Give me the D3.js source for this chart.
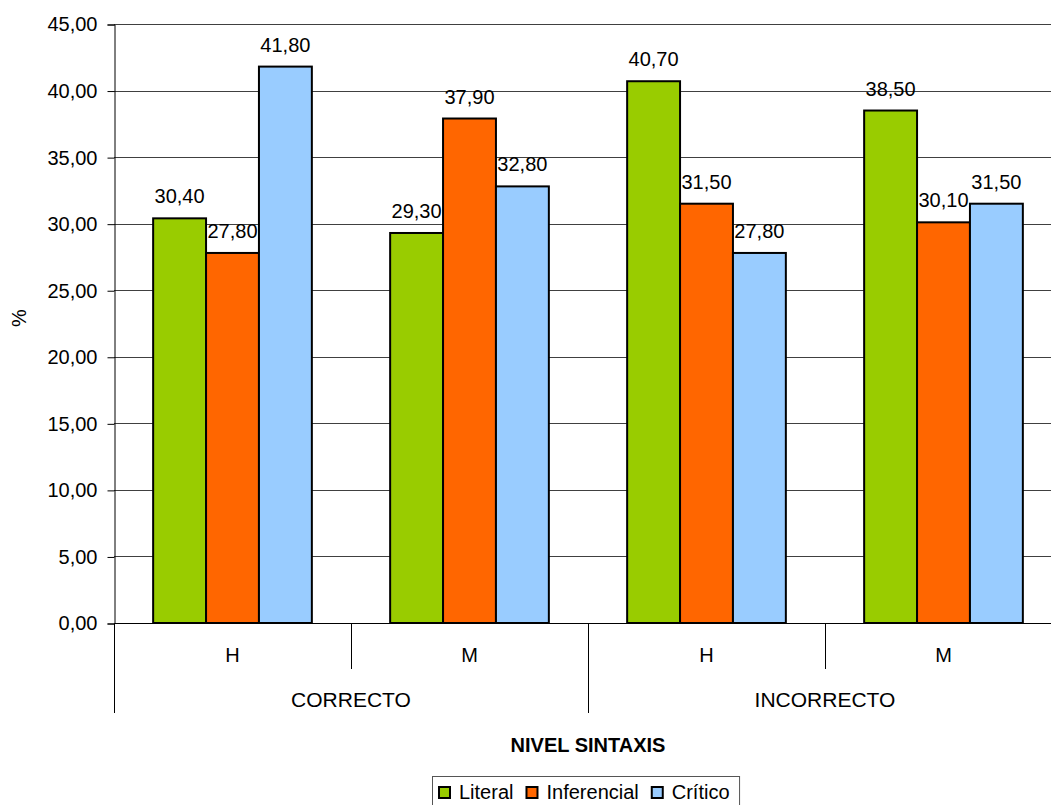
<!DOCTYPE html>
<html>
<head>
<meta charset="utf-8">
<script src="https://cdn.jsdelivr.net/npm/d3@7"></script>
<style>
html,body{margin:0;padding:0;background:#fff;overflow:hidden;}
svg{display:block;font-family:"Liberation Sans",Arial,sans-serif;}
</style>
</head>
<body>
<svg id="chart" width="1051" height="805"></svg>
<script>
const groups = ["CORRECTO", "INCORRECTO"];
const subCategories = ["H", "M", "H", "M"];
const subParent = [0, 0, 1, 1];
const seriesNames = ["Literal", "Inferencial", "Crítico"];
const literal = [30.4, 29.3, 40.7, 38.5];
const inferencial = [27.8, 37.9, 31.5, 30.1];
const critico = [41.8, 32.8, 27.8, 31.5];
const yTicks = [0, 5, 10, 15, 20, 25, 30, 35, 40, 45];
const colors = ["#99CC00", "#FF6600", "#99CCFF"];
const seriesValues = [literal, inferencial, critico];

const svg = d3.select("#chart");
const pLeft = 114, pRight = 1062, pTop = 24, pBottom = 623;

const x0 = d3.scaleBand().domain(d3.range(subCategories.length)).range([pLeft, pRight]).padding(0);
const x1 = d3.scaleBand().domain(seriesNames).range([0, x0.bandwidth()]).paddingInner(0).paddingOuter(0.74);
const y = d3.scaleLinear().domain([0, 45]).range([pBottom, pTop]);
const fmt = v => d3.format(".2f")(v).replace(".", ",");

// gridlines
svg.append("g").selectAll("line").data(yTicks.filter(d => d > 0)).join("line")
  .attr("x1", pLeft).attr("x2", pRight)
  .attr("y1", d => Math.round(y(d)) + 0.5).attr("y2", d => Math.round(y(d)) + 0.5)
  .attr("stroke", "#404040").attr("stroke-width", 1);

// y axis
const yAxis = d3.axisLeft(y).tickValues(yTicks).tickSize(7).tickPadding(10).tickFormat(fmt);
const gy = svg.append("g").attr("transform", `translate(${pLeft + 0.5},0.5)`).call(yAxis);
gy.select(".domain").attr("stroke", "#000");
gy.selectAll(".tick line").attr("stroke", "#000");
gy.selectAll(".tick text").attr("font-size", 20).attr("fill", "#000")
  .attr("font-family", "'Liberation Sans',Arial,sans-serif");

// bars
const data = [];
subCategories.forEach((c, i) => seriesNames.forEach((s, j) => data.push({i, s, j, v: seriesValues[j][i]})));
svg.append("g").selectAll("rect").data(data).join("rect")
  .attr("x", d => x0(d.i) + x1(d.s))
  .attr("y", d => y(d.v))
  .attr("width", x1.bandwidth())
  .attr("height", d => y(0) - y(d.v))
  .attr("fill", d => colors[d.j])
  .attr("stroke", "#000").attr("stroke-width", 2);

// value labels
svg.append("g").selectAll("text").data(data).join("text")
  .attr("x", d => x0(d.i) + x1(d.s) + x1.bandwidth() / 2)
  .attr("y", d => y(d.v) - 15)
  .attr("text-anchor", "middle").attr("font-size", 20).attr("fill", "#000")
  .text(d => fmt(d.v));

// x axis baseline
svg.append("line").attr("x1", pLeft).attr("x2", pRight)
  .attr("y1", pBottom + 0.5).attr("y2", pBottom + 0.5).attr("stroke", "#000");

// category separators
const sepX = d3.range(subCategories.length + 1).map(i => i < subCategories.length ? x0(i) : pRight);
svg.append("g").selectAll("line").data(sepX).join("line")
  .attr("x1", d => Math.round(d) + 0.5).attr("x2", d => Math.round(d) + 0.5)
  .attr("y1", pBottom)
  .attr("y2", (d, i) => (i % 2 === 0) ? 713 : 669)
  .attr("stroke", "#000");

// sub category labels
svg.append("g").selectAll("text").data(subCategories).join("text")
  .attr("x", (d, i) => x0(i) + x0.bandwidth() / 2)
  .attr("y", 662).attr("text-anchor", "middle").attr("font-size", 20).text(d => d);

// group labels
svg.append("g").selectAll("text").data(groups).join("text")
  .attr("x", (g, gi) => {
    const idx = subParent.map((p, i) => p === gi ? i : -1).filter(i => i >= 0);
    return (x0(idx[0]) + x0(idx[idx.length - 1]) + x0.bandwidth()) / 2;
  })
  .attr("y", 707).attr("text-anchor", "middle").attr("font-size", 21).text(d => d);

// axis titles
svg.append("text").attr("x", (pLeft + pRight) / 2).attr("y", 752)
  .attr("text-anchor", "middle").attr("font-size", 20).attr("font-weight", "bold").text("NIVEL SINTAXIS");
svg.append("text").attr("transform", "translate(26,318) rotate(-90)")
  .attr("text-anchor", "middle").attr("font-size", 20).text("%");

// legend
const lg = svg.append("g");
const lgBox = lg.append("rect").attr("x", 432.5).attr("y", 776.5).attr("height", 40)
  .attr("fill", "#fff").attr("stroke", "#555");
let lx = 439;
seriesNames.forEach((s, j) => {
  lg.append("rect").attr("x", lx).attr("y", 787).attr("width", 11).attr("height", 11)
    .attr("fill", colors[j]).attr("stroke", "#000").attr("stroke-width", 2);
  const t = lg.append("text").attr("x", lx + 20).attr("y", 799).attr("font-size", 20).text(s);
  lx += 20 + t.node().getComputedTextLength() + 13;
});
lgBox.attr("width", lx - 432.5 - 3);
</script>
</body>
</html>
